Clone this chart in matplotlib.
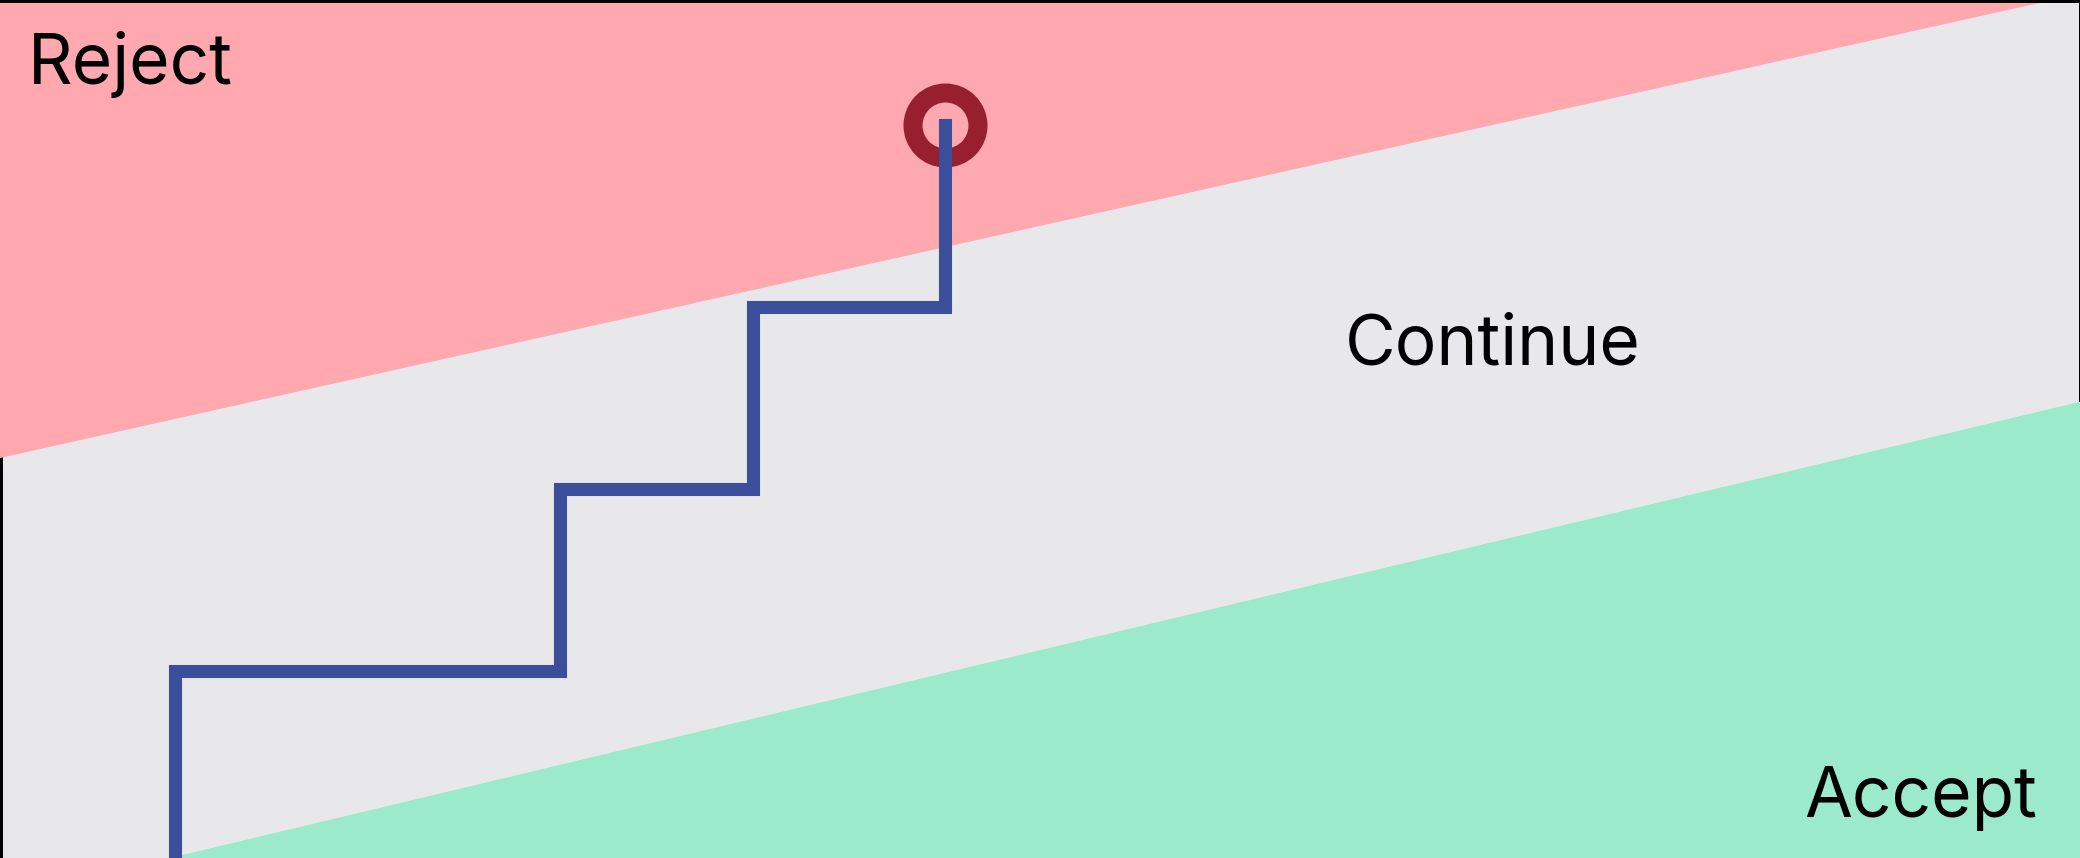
import numpy as np
import matplotlib
matplotlib.use("Agg")
from matplotlib import pyplot as plt

# sequential test path: trial number vs. cumulative successes
path_trials = [1, 1, 3, 3, 4, 4, 5, 5]
path_successes = [0, 1, 1, 2, 2, 3, 3, 4]
stop_point = (5, 4)

# decision boundaries (successes = slope * trials + intercept)
reject_slope, reject_intercept = 0.236, 2.149
accept_slope, accept_intercept = 0.2526, -0.273

labels = ["Reject", "Continue", "Accept"]

bg_color = "#e8e8ea"
reject_color = "#ffa8b0"
accept_color = "#9aeacb"
path_color = "#3a4e9a"
stop_color = "#98202e"

xlim = (0.0909, 10.896)
ylim = (-0.027, 4.687)

fig = plt.figure(figsize=(20.8, 8.58), dpi=100)
ax = fig.add_axes([0, 0, 1, 1])
ax.set_facecolor(bg_color)
ax.set_xlim(*xlim)
ax.set_ylim(*ylim)

n = np.array(xlim)
ax.fill_between(n, reject_slope * n + reject_intercept, ylim[1] + 1,
                color=reject_color, lw=0, zorder=3)
ax.fill_between(n, ylim[0] - 1, accept_slope * n + accept_intercept,
                color=accept_color, lw=0, zorder=3)

ax.plot(*stop_point, marker="o", ms=46.8, mfc="none", mec=stop_color,
        mew=13.7, zorder=4)
ax.plot(path_trials, path_successes, color=path_color, lw=9.4,
        solid_capstyle="projecting", solid_joinstyle="miter", zorder=5)

# labels placed in figure pixel fractions
text_kw = dict(fontsize=50, family=["Inter", "DejaVu Sans"],
               color="black", va="baseline", transform=ax.transAxes, zorder=6)
ax.text(28 / 2080, 1 - 84 / 858, labels[0], ha="left", **text_kw)
ax.text(1493 / 2080, 1 - 364 / 858, labels[1], ha="center", **text_kw)
ax.text(2037 / 2080, 1 - 817 / 858, labels[2], ha="right", **text_kw)

ax.set_xticks([])
ax.set_yticks([])
for side in ["left", "top", "right", "bottom"]:
    ax.spines[side].set_color("black")
ax.spines["left"].set_linewidth(4.3)
ax.spines["top"].set_linewidth(4.3)
ax.spines["top"].set_zorder(7)
ax.spines["right"].set_linewidth(1.44)
ax.spines["bottom"].set_visible(False)

fig.savefig("out.png", dpi=100)
